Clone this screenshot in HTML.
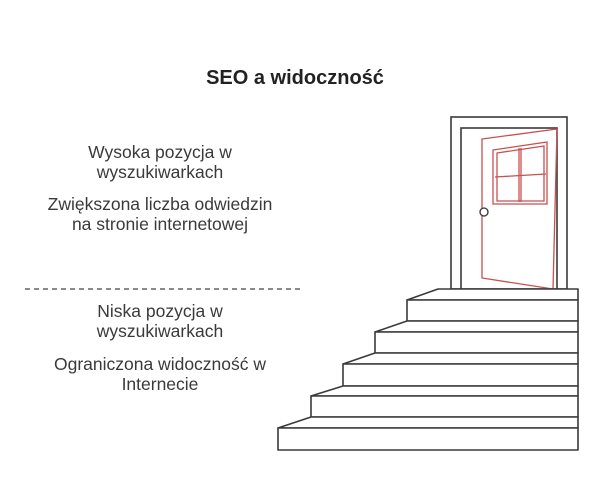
<!DOCTYPE html>
<html><head><meta charset="utf-8"><style>
body{margin:0;background:#fff;}
.t{position:absolute;font-family:"Liberation Sans",sans-serif;color:#3a3a3a;text-align:center;white-space:nowrap;}
</style></head><body>
<div style="position:relative;width:600px;height:493px;overflow:hidden">
<div class="t" style="left:0;width:590px;top:67px;font-size:20px;font-weight:bold;color:#222">SEO a widoczność</div>
<div class="t" style="left:10px;width:300px;top:142px;font-size:17.5px;line-height:20px">Wysoka pozycja w<br>wyszukiwarkach</div>
<div class="t" style="left:10px;width:300px;top:194px;font-size:17.5px;line-height:20px">Zwiększona liczba odwiedzin<br>na stronie internetowej</div>
<div class="t" style="left:10px;width:300px;top:301px;font-size:17.5px;line-height:20px">Niska pozycja w<br>wyszukiwarkach</div>
<div class="t" style="left:10px;width:300px;top:354px;font-size:17.5px;line-height:20px">Ograniczona widoczność w<br>Internecie</div>
<svg width="600" height="493" style="position:absolute;left:0;top:0" fill="none">
<line x1="25" y1="289" x2="300" y2="289" stroke="#444" stroke-width="1.2" stroke-dasharray="5,4"/>
<g stroke="#3a3a3a" stroke-width="1.6" fill="#fff">
<rect x="451" y="117" width="116" height="172"/>
<rect x="461" y="128" width="96" height="161"/>
</g>
<g stroke="#c85050" stroke-width="1.3">
<polygon points="482,139 557,129 553,289 482,278"/>
<polygon points="493,150 547,142 547,204 493,204"/>
<polygon points="497,153 544,146 544,201 497,201"/>
<line x1="519" y1="148" x2="519" y2="202"/>
<line x1="521" y1="148" x2="521" y2="202"/>
<line x1="495" y1="177" x2="546" y2="174"/>
</g>
<circle cx="484" cy="212" r="4" stroke="#333" stroke-width="1.3" fill="#fff"/>
<g stroke="#3a3a3a" stroke-width="1.6" fill="#fff" stroke-linejoin="round">
<polygon points="438,289 578,289 578,300 407,300"/>
<rect x="407" y="300" width="171" height="21"/>
<polygon points="407,321 578,321 578,332 375,332"/>
<rect x="375" y="332" width="203" height="21"/>
<polygon points="375,353 578,353 578,364 343,364"/>
<rect x="343" y="364" width="235" height="22"/>
<polygon points="343,386 578,386 578,396 311,396"/>
<rect x="311" y="396" width="267" height="21"/>
<polygon points="311,417 578,417 578,428 278,428"/>
<rect x="278" y="428" width="300" height="22"/>
</g>
</svg>
</div>
</body></html>
